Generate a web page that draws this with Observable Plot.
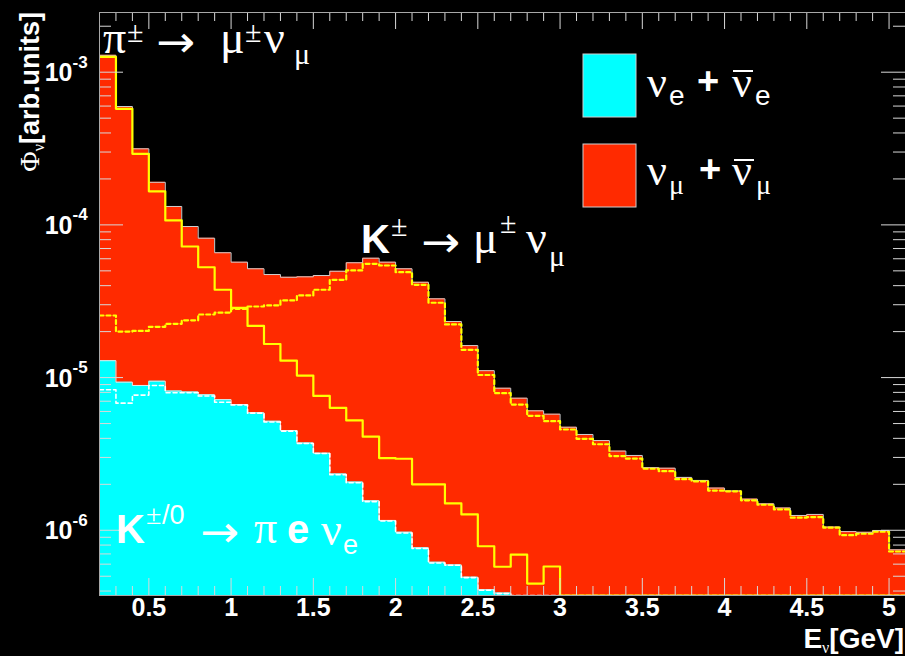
<!DOCTYPE html>
<html><head><meta charset="utf-8">
<script src="https://cdn.jsdelivr.net/npm/d3@7"></script>
<script src="https://cdn.jsdelivr.net/npm/@observablehq/plot@0.6"></script>
<style>html,body{margin:0;padding:0;background:#000;} #chart svg{display:block}</style>
</head><body><div id="chart"></div>
<script>
// ---- data (flux per 0.1 GeV bin) ----
const binEdges = [0.2,0.3,0.4,0.5,0.6,0.7,0.8,0.9,1.0,1.1,1.2,1.3,1.4,1.5,1.6,1.7,1.8,1.9,2.0,2.1,2.2,2.3,2.4,2.5,2.6,2.7,2.8,2.9,3.0,3.1,3.2,3.3,3.4,3.5,3.6,3.7,3.8,3.9,4.0,4.1,4.2,4.3,4.4,4.5,4.6,4.7,4.8,4.9,5.0,5.1];
const numuTotal = [1.29e-3,5.96e-4,3.15e-4,1.90e-4,1.32e-4,9.76e-5,8.18e-5,6.57e-5,5.70e-5,5.16e-5,
  4.73e-5,4.54e-5,4.57e-5,4.66e-5,4.97e-5,5.65e-5,6.05e-5,5.70e-5,5.16e-5,4.21e-5,
  3.28e-5,2.33e-5,1.62e-5,1.11e-5,8.52e-6,7.33e-6,6.06e-6,5.76e-6,4.73e-6,4.24e-6,
  3.87e-6,3.30e-6,3.09e-6,2.57e-6,2.55e-6,2.22e-6,2.12e-6,1.89e-6,1.81e-6,1.60e-6,
  1.49e-6,1.40e-6,1.25e-6,1.27e-6,1.05e-6,9.8e-7,9.7e-7,9.97e-7,7.45e-7];
const numuFromPi = [1.26e-3,5.76e-4,2.92e-4,1.66e-4,1.07e-4,7.22e-5,5.28e-5,3.76e-5,2.86e-5,2.18e-5,
  1.66e-5,1.29e-5,1.03e-5,7.58e-6,6.34e-6,5.24e-6,4.10e-6,2.97e-6,2.94e-6,2.00e-6,
  2.00e-6,1.50e-6,1.27e-6,7.86e-7,5.77e-7,6.92e-7,4.48e-7,5.79e-7,
  null,null,null,null,null,null,null,null,null,null,null,null,null,null,null,null,null,null,null,null,null];
const numuFromK = [2.55e-5,2.00e-5,2.02e-5,2.15e-5,2.25e-5,2.37e-5,2.59e-5,2.66e-5,2.82e-5,2.92e-5,
  2.97e-5,3.20e-5,3.45e-5,3.76e-5,4.37e-5,5.03e-5,5.56e-5,5.42e-5,4.90e-5,4.05e-5,
  3.09e-5,2.23e-5,1.52e-5,1.04e-5,7.90e-6,6.66e-6,5.62e-6,5.18e-6,4.57e-6,3.97e-6,
  3.66e-6,3.06e-6,2.95e-6,2.53e-6,2.44e-6,2.16e-6,2.09e-6,1.82e-6,1.80e-6,1.57e-6,
  1.47e-6,1.37e-6,1.21e-6,1.22e-6,1.04e-6,9.29e-7,9.49e-7,9.78e-7,7.26e-7];
const nueTotal = [1.29e-5,9.33e-6,8.88e-6,9.47e-6,8.17e-6,8.05e-6,7.72e-6,7.17e-6,6.66e-6,5.88e-6,
  5.18e-6,4.50e-6,3.73e-6,3.20e-6,2.34e-6,2.07e-6,1.56e-6,1.16e-6,9.72e-7,7.68e-7,
  6.18e-7,5.93e-7,4.93e-7,4.08e-7,3.88e-7,
  null,null,null,null,null,null,null,null,null,null,null,null,null,null,null,null,null,null,null,null,null,null,null,null];
const nueFromKe3 = [8.32e-6,6.80e-6,7.68e-6,8.88e-6,7.95e-6,7.95e-6,7.58e-6,6.90e-6,6.61e-6,5.85e-6,
  5.12e-6,4.46e-6,3.70e-6,3.18e-6,2.31e-6,2.05e-6,1.54e-6,1.15e-6,9.6e-7,7.6e-7,
  6.1e-7,5.9e-7,4.9e-7,4.05e-7,3.85e-7,
  null,null,null,null,null,null,null,null,null,null,null,null,null,null,null,null,null,null,null,null,null,null,null,null];
const xTickValues = [0.5,1,1.5,2,2.5,3,3.5,4,4.5,5];
const xTickLabels = ["0.5","1","1.5","2","2.5","3","3.5","4","4.5","5"];
const yDecades = [1e-6,1e-5,1e-4,1e-3];
const yDecadeExp = ["-6","-5","-4","-3"];

// ---- layout ----
const W = 905, H = 656, mL = 99, mR = 0, mT = 12, mB = 61;
const PW = W - mL - mR, PH = H - mT - mB;
const xDomain = [0.2, 5.1], yDomain = [3.74e-7, 2.46e-3];
const RED = "#ff2a00", CYAN = "#00ffff", YEL = "#ffff00";
const SANS = "Liberation Sans, Arial, Helvetica, sans-serif";
const SERIF = "Liberation Serif, DejaVu Serif, Times New Roman, serif";
const ARROWF = "DejaVu Sans, sans-serif";

function stepPoints(values) {
  const pts = values.map((v, i) => ({x: binEdges[i], y: v == null ? yDomain[0] : v}));
  pts.push({x: binEdges[values.length], y: pts[pts.length - 1].y});
  return pts;
}
const redPts = stepPoints(numuTotal), piPts = stepPoints(numuFromPi), kPts = stepPoints(numuFromK);
const cyPts = stepPoints(nueTotal), ke3Pts = stepPoints(nueFromKe3);

const xMinor = d3.range(2, 52).map(i => i / 10).filter(v => Math.abs(v * 2 - Math.round(v * 2)) > 1e-6);
const yMinor = [];
for (let e = -7; e <= -3; e++) for (let m = 2; m <= 9; m++) { const v = m * Math.pow(10, e); if (v > yDomain[0] && v < yDomain[1]) yMinor.push(v); }
const TICK = "#d8d8d8";

const chart = Plot.plot({
  width: W, height: H, marginLeft: mL, marginRight: mR, marginTop: mT, marginBottom: mB,
  style: {background: "#000", color: "white", overflow: "visible"},
  x: {domain: xDomain, axis: null},
  y: {type: "log", domain: yDomain, axis: null},
  marks: [
    Plot.areaY(redPts, {x: "x", y1: () => yDomain[0], y2: "y", curve: "step-after", fill: RED}),
    Plot.line(redPts, {x: "x", y: "y", curve: "step-after", stroke: "#cfcfcf", strokeWidth: 1, clip: true}),
    Plot.areaY(cyPts, {x: "x", y1: () => yDomain[0], y2: "y", curve: "step-after", fill: CYAN}),
    Plot.line(cyPts, {x: "x", y: "y", curve: "step-after", stroke: "#e8e8e8", strokeWidth: 1, clip: true}),
    Plot.line(ke3Pts, {x: "x", y: "y", curve: "step-after", stroke: "white", strokeWidth: 1.6, strokeDasharray: "4,3", clip: true}),
    Plot.line(kPts, {x: "x", y: "y", curve: "step-after", stroke: YEL, strokeWidth: 2.2, strokeDasharray: "4,3", clip: true}),
    Plot.line(piPts, {x: "x", y: "y", curve: "step-after", stroke: YEL, strokeWidth: 2.2, clip: true}),
    // ticks (inward, ROOT style)
    Plot.tickX(xTickValues, {x: d => d, insetTop: PH - 17, stroke: TICK}),
    Plot.tickX(xTickValues, {x: d => d, insetBottom: PH - 17, stroke: TICK}),
    Plot.tickX(xMinor, {x: d => d, insetTop: PH - 9, stroke: TICK}),
    Plot.tickX(xMinor, {x: d => d, insetBottom: PH - 9, stroke: TICK}),
    Plot.tickY(yDecades, {y: d => d, insetRight: PW - 24, stroke: TICK}),
    Plot.tickY(yDecades, {y: d => d, insetLeft: PW - 24, stroke: TICK}),
    Plot.tickY(yMinor, {y: d => d, insetRight: PW - 12, stroke: TICK}),
    Plot.tickY(yMinor, {y: d => d, insetLeft: PW - 12, stroke: TICK}),
    Plot.frame({stroke: "#a8a8a8"}),
    // tick labels
    Plot.text(xTickValues, {x: d => d, text: (d, i) => xTickLabels[i], frameAnchor: "bottom", dy: 20,
      fill: "white", fontSize: 25, fontWeight: "bold", fontFamily: SANS}),
    Plot.text(yDecades, {y: d => d, text: () => "10", frameAnchor: "left", textAnchor: "end", dx: -27, dy: 1,
      fill: "white", fontSize: 25, fontWeight: "bold", fontFamily: SANS}),
    Plot.text(yDecades, {y: d => d, text: (d, i) => yDecadeExp[i], frameAnchor: "left", textAnchor: "start", dx: -27, dy: -10,
      fill: "white", fontSize: 17, fontWeight: "bold", fontFamily: SANS})
  ]
});
document.getElementById("chart").appendChild(chart);

// ---- annotations, legend, axis titles ----
const svg = d3.select(chart);
function label(x, y, str, {size = 46, family = SERIF, weight = "normal", anchor = "start", len = null} = {}) {
  const t = svg.append("text").attr("x", x).attr("y", y).attr("font-size", size).attr("font-family", family)
    .attr("font-weight", weight).attr("fill", "white").attr("text-anchor", anchor).text(str);
  if (len) t.attr("textLength", len).attr("lengthAdjust", "spacingAndGlyphs");
}
function arrow(x, y) { label(x, y, "→", {size: 44, family: ARROWF, len: 39}); }
// π± → μ± νμ
label(103, 53, "π"); label(127, 42, "±", {size: 30}); arrow(156, 57);
label(220, 53, "μ"); label(245, 42, "±", {size: 30}); label(264, 53, "ν"); label(294, 64, "μ", {size: 30});
// K± → μ± νμ
label(361, 253, "K", {size: 40, family: SANS, weight: "bold"}); label(391, 236, "±", {size: 30});
arrow(421, 257); label(473, 253, "μ"); label(500, 233, "±", {size: 30});
label(526, 253, "ν"); label(549, 266, "μ", {size: 30});
// K±/0 → π e νe
label(116, 543, "K", {size: 40, family: SANS, weight: "bold"}); label(146, 524, "±", {size: 28});
label(162, 524, "/0", {size: 27, family: SANS});
arrow(200, 547); label(254, 543, "π"); label(287, 543, "e", {size: 40, family: SANS, weight: "bold"});
label(321, 545, "ν"); label(343, 554, "e", {size: 27, family: SANS});

// legend
svg.append("rect").attr("x", 583).attr("y", 54).attr("width", 53).attr("height", 63).attr("fill", CYAN).attr("stroke", "#cfcfcf");
svg.append("rect").attr("x", 583).attr("y", 144).attr("width", 53).attr("height", 63).attr("fill", RED).attr("stroke", "#cfcfcf");
label(647, 97, "ν", {size: 44}); label(669, 105, "e", {size: 28, family: SANS});
label(697, 94, "+", {size: 38, family: SANS, weight: "bold"});
label(732, 97, "ν", {size: 44}); label(755, 105, "e", {size: 28, family: SANS});
svg.append("line").attr("x1", 733).attr("x2", 753).attr("y1", 71).attr("y2", 71).attr("stroke", "white").attr("stroke-width", 2);
label(647, 185, "ν", {size: 44}); label(669, 194, "μ", {size: 28});
label(699, 182, "+", {size: 38, family: SANS, weight: "bold"});
label(732, 185, "ν", {size: 44}); label(756, 194, "μ", {size: 28});
svg.append("line").attr("x1", 734).attr("x2", 754).attr("y1", 160).attr("y2", 160).attr("stroke", "white").attr("stroke-width", 2);

// y title
const yt = svg.append("g").attr("transform", "translate(39,12) rotate(-90)")
  .append("text").attr("text-anchor", "end").attr("fill", "white");
yt.append("tspan").attr("font-family", SERIF).attr("font-size", 28).text("Φ");
yt.append("tspan").attr("font-family", SERIF).attr("font-size", 16).attr("dy", 5).text("ν");
yt.append("tspan").attr("font-family", SANS).attr("font-weight", "bold").attr("font-size", 27).attr("dy", -5).text("[arb.units]");
// x title
const xt = svg.append("text").attr("x", 904).attr("y", 648).attr("text-anchor", "end").attr("fill", "white");
xt.append("tspan").attr("font-family", SANS).attr("font-weight", "bold").attr("font-size", 28).text("E");
xt.append("tspan").attr("font-family", SERIF).attr("font-size", 16).attr("dy", 5).text("ν");
xt.append("tspan").attr("font-family", SANS).attr("font-weight", "bold").attr("font-size", 28).attr("dy", -5).text("[GeV]");
</script></body></html>
